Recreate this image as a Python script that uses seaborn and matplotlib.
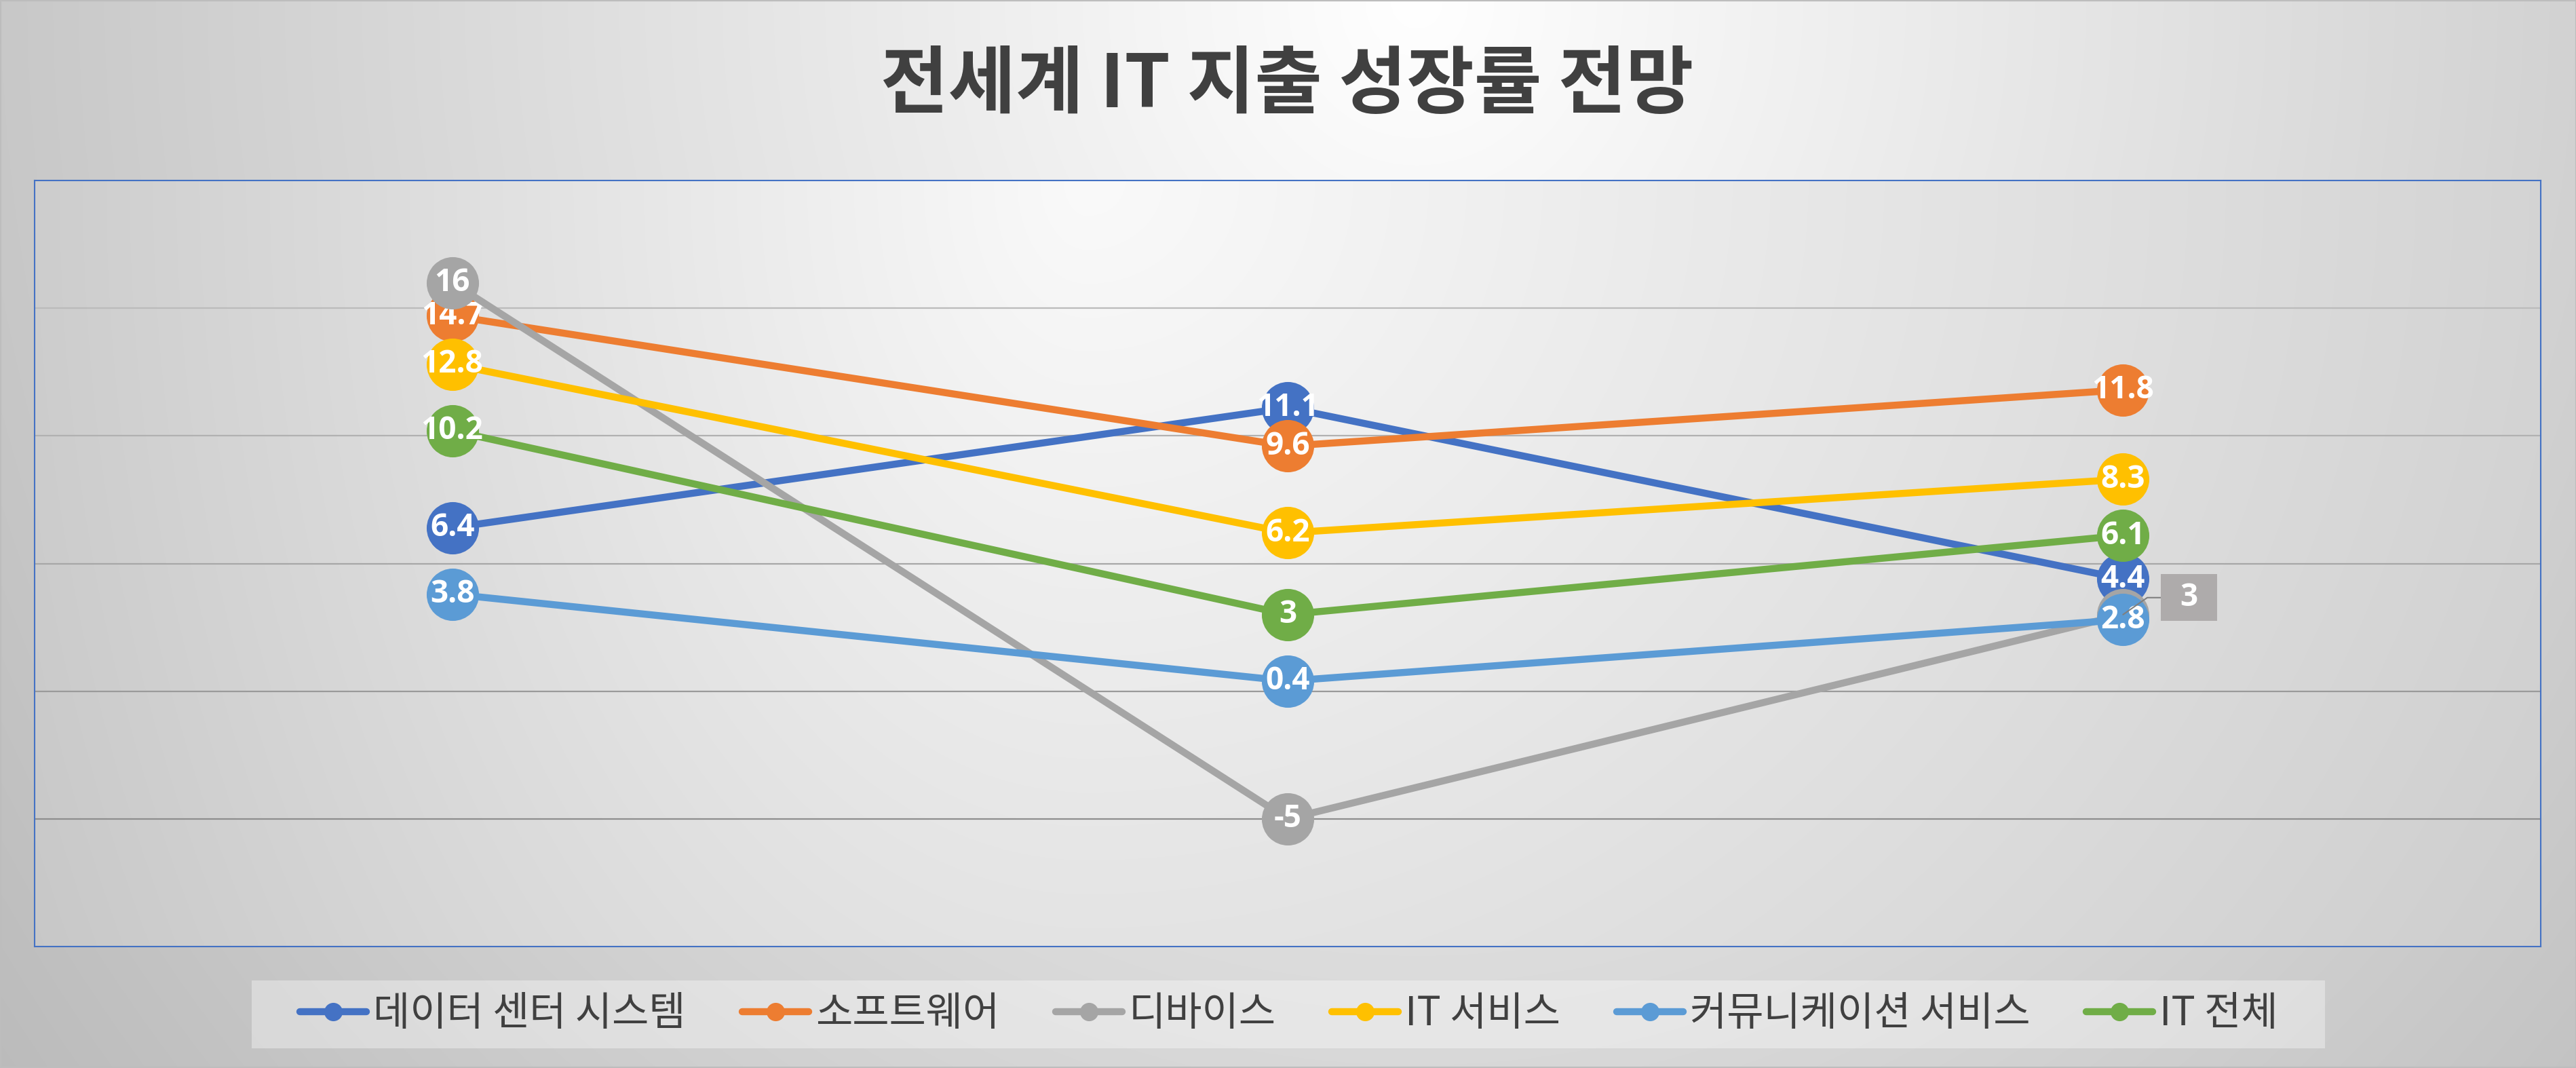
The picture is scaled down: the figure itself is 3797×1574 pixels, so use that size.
import numpy as np
import pandas as pd
import matplotlib
matplotlib.use("Agg")
import matplotlib.pyplot as plt
import seaborn as sns
from matplotlib.lines import Line2D
from matplotlib.patches import Rectangle
from matplotlib.path import Path

# ---------------- data ----------------
title = "전세계 IT 지출 성장률 전망"
categories = ["2019", "2020", "2021"]
series_names = ["데이터 센터 시스템", "소프트웨어", "디바이스", "IT 서비스", "커뮤니케이션 서비스", "IT 전체"]
data_center = [6.4, 11.1, 4.4]
software = [14.7, 9.6, 11.8]
devices = [16, -5, 3]
it_services = [12.8, 6.2, 8.3]
comm_services = [3.8, 0.4, 2.8]
it_total = [10.2, 3, 6.1]
series_values = [data_center, software, devices, it_services, comm_services, it_total]
colors = ["#4472C4", "#ED7D31", "#A5A5A5", "#FFC000", "#5B9BD5", "#70AD47"]
grid_levels = [15, 10, 5, 0, -5]
grid_colors = ["#BBBBBB", "#B1B1B1", "#A7A7A7", "#9A9A9A", "#8E8E8E"]
callout = ("디바이스", "2021")

rows = []
for name, vals in zip(series_names, series_values):
    for c, v in zip(categories, vals):
        rows.append({"series": name, "category": c, "value": v})
df = pd.DataFrame(rows)

sns.set_theme(style="white")
KR = ["Noto Sans CJK KR", "DejaVu Sans"]
NUM = ["Open Sans", "DejaVu Sans"]
plt.rcParams["font.family"] = KR

W, H = 3798, 1574
fig = plt.figure(figsize=(W / 100, H / 100), dpi=100)

# ---------- figure background gradient ----------
bg = fig.add_axes([0, 0, 1, 1], zorder=-10)
gx, gy = np.meshgrid(np.linspace(0, 1, 760), np.linspace(0, 1, 320))
u = (gx - 0.55) / 0.55
r = np.sqrt(u ** 2 + (0.71 * gy) ** 2)
val = np.clip(255 - 55 * r, 185, 255) / 255.0
bg.imshow(np.dstack([val, val, val]), extent=(0, 1, 0, 1), aspect="auto",
          interpolation="bicubic", origin="upper")
bg.set_xlim(0, 1); bg.set_ylim(0, 1)
bg.axis("off")

# ---------- plot axes ----------
ax = fig.add_axes([51 / W, 1 - 1395 / H, (3745 - 51) / W, (1395 - 266) / H])
px, py = np.meshgrid(np.linspace(0, 1, 760), np.linspace(0, 1, 240))
uu = np.where(px < 0.42, (px - 0.42) / 0.42, (px - 0.42) / 0.58 * 0.85)
vv = py  # row 0 at top with origin='upper'
rr = np.sqrt(uu ** 2 + (0.5 * vv) ** 2)
pv = np.clip(250 - 45 * rr, 190, 255) / 255.0
ax.imshow(np.dstack([pv, pv, pv]), extent=(0, 1, 0, 1), transform=ax.transAxes,
          aspect="auto", interpolation="bicubic", origin="upper", zorder=0)

for lvl, gc in zip(grid_levels, grid_colors):
    ax.axhline(lvl, color=gc, lw=1.6, zorder=1)

sns.lineplot(data=df, x="category", y="value", hue="series", hue_order=series_names,
             palette=colors, marker="o", markersize=55.5, markeredgewidth=0,
             linewidth=7.5, legend=False, errorbar=None, sort=False, ax=ax)

data_lines = [l for l in ax.lines if l.get_marker() == "o"]
for i, ln in enumerate(data_lines):
    ln.set_zorder(3 + 2 * i)
    ln.set_solid_capstyle("round")

lab_fs = 33
for i, (name, vals) in enumerate(zip(series_names, series_values)):
    for j, (c, v) in enumerate(zip(categories, vals)):
        txt = f"{v:g}"
        if (name, c) == callout:
            continue
        ax.text(j, v, txt, ha="center", va="center", color="white", fontsize=lab_fs,
                fontweight="bold", family=NUM, zorder=4 + 2 * i)


def callout_box(x0, y0, width, height, mutation_size):
    padx = 0.62 * mutation_size
    pady = 0.24 * mutation_size
    a, b = x0 - padx, y0 - pady
    c, d = x0 + width + padx, y0 + height + pady
    return Path([(a, b), (c, b), (c, d), (a, d), (a, b)], closed=True)


ci = series_names.index(callout[0])
cj = categories.index(callout[1])
cv = series_values[ci][cj]
ax.annotate(f"{cv:g}", xy=(cj, cv), xytext=(70, 18), textcoords="offset points",
            ha="center", va="center", color="white", fontsize=lab_fs, fontweight="bold",
            family=NUM,
            bbox=dict(boxstyle=callout_box, fc="#AEABAB", ec="none"),
            arrowprops=dict(arrowstyle="-", color="#7F7F7F", lw=1.5, shrinkA=0, shrinkB=0,
                            connectionstyle="angle,angleA=0,angleB=35,rad=0"),
            zorder=30)

ax.set_xlim(-0.5, 2.5)
ax.set_ylim(-10, 20)
ax.set_xlabel("")
ax.set_ylabel("")
ax.set_xticks([])
ax.set_yticks([])
for sp in ax.spines.values():
    sp.set_visible(True)
    sp.set_color("#4472C4")
    sp.set_linewidth(1.5)
    sp.set_zorder(40)
ax.set_facecolor("none")

# ---------- title ----------
fig.text(1897 / W, 1 - 127 / H, title, ha="center", va="center", fontsize=78,
         fontweight="bold", color="#404040", family=KR)

# ---------- legend ----------
fig.patches.append(Rectangle((371 / W, 1 - 1545 / H), (3427 - 371) / W, 100 / H,
                             transform=fig.transFigure, facecolor="white", alpha=0.36,
                             edgecolor="none", zorder=-5))
handles = [Line2D([0], [0], color=c, lw=7.5, marker="o", markersize=19.5,
                  markeredgewidth=0, solid_capstyle="round") for c in colors]
fig.legend(handles, series_names, loc="center", bbox_to_anchor=(1900 / W, 1 - 1495 / H),
           ncol=6, frameon=False, handlelength=1.66, handletextpad=0.17,
           columnspacing=1.4, labelcolor="#404040", prop={"family": KR, "size": 42.5})

# outer border
fig.patches.append(Rectangle((0, 0), 1, 1, transform=fig.transFigure, fill=False,
                             edgecolor="#BDBDBD", lw=3, zorder=50))

fig.savefig("out.png", dpi=100)
